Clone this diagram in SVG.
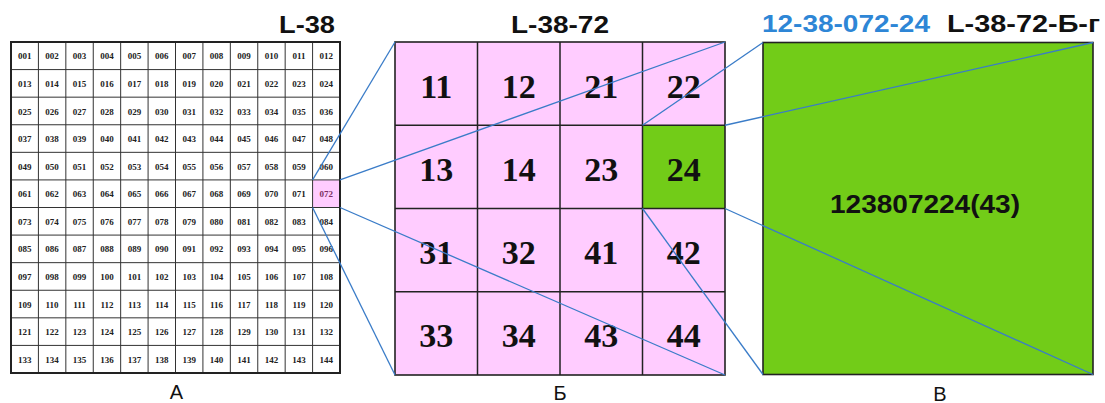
<svg xmlns="http://www.w3.org/2000/svg" width="1105" height="403" viewBox="0 0 1105 403">
<style>
.bg{fill:#ffffff}
.gl{stroke:#333;stroke-width:1;fill:none}
.gb{stroke:#222;stroke-width:2;fill:none}
.sm{font-family:"Liberation Serif","Times New Roman",serif;font-weight:bold;font-size:9px;fill:#222;text-anchor:middle}
.big{font-family:"Liberation Serif","Times New Roman",serif;font-weight:bold;font-size:34px;fill:#111;text-anchor:middle}
.ttl{font-family:"Liberation Sans",Arial,sans-serif;font-weight:bold;font-size:23px;fill:#111}
.lbl{font-family:"Liberation Sans",Arial,sans-serif;font-size:20px;fill:#111;text-anchor:middle}
.pink{fill:#ffccff}
.green{fill:#72cc18}
.con{stroke:#3a7cc8;stroke-width:1.3;fill:none}
</style>
<rect class="bg" x="0" y="0" width="1105" height="403"/>

<g id="sheet-L-38">
<rect class="pink" x="312.58" y="179.92" width="27.42" height="27.58"/>
<path class="gl" d="M38.42 42V373M65.83 42V373M93.25 42V373M120.67 42V373M148.08 42V373M175.5 42V373M202.92 42V373M230.33 42V373M257.75 42V373M285.17 42V373M312.58 42V373M11 69.58H340M11 97.17H340M11 124.75H340M11 152.33H340M11 179.92H340M11 207.5H340M11 235.08H340M11 262.67H340M11 290.25H340M11 317.83H340M11 345.42H340"/>
<rect class="gb" x="11" y="42" width="329" height="331"/>
<text class="ttl" x="279" y="33" textLength="56" lengthAdjust="spacingAndGlyphs">L-38</text>
<g class="sm">
<g transform="translate(0,59.3)"><text x="24.7">001</text><text x="52.1">002</text><text x="79.5">003</text><text x="107">004</text><text x="134.4">005</text><text x="161.8">006</text><text x="189.2">007</text><text x="216.6">008</text><text x="244">009</text><text x="271.5">010</text><text x="298.9">011</text><text x="326.3">012</text></g>
<g transform="translate(0,86.9)"><text x="24.7">013</text><text x="52.1">014</text><text x="79.5">015</text><text x="107">016</text><text x="134.4">017</text><text x="161.8">018</text><text x="189.2">019</text><text x="216.6">020</text><text x="244">021</text><text x="271.5">022</text><text x="298.9">023</text><text x="326.3">024</text></g>
<g transform="translate(0,114.5)"><text x="24.7">025</text><text x="52.1">026</text><text x="79.5">027</text><text x="107">028</text><text x="134.4">029</text><text x="161.8">030</text><text x="189.2">031</text><text x="216.6">032</text><text x="244">033</text><text x="271.5">034</text><text x="298.9">035</text><text x="326.3">036</text></g>
<g transform="translate(0,142.1)"><text x="24.7">037</text><text x="52.1">038</text><text x="79.5">039</text><text x="107">040</text><text x="134.4">041</text><text x="161.8">042</text><text x="189.2">043</text><text x="216.6">044</text><text x="244">045</text><text x="271.5">046</text><text x="298.9">047</text><text x="326.3">048</text></g>
<g transform="translate(0,169.6)"><text x="24.7">049</text><text x="52.1">050</text><text x="79.5">051</text><text x="107">052</text><text x="134.4">053</text><text x="161.8">054</text><text x="189.2">055</text><text x="216.6">056</text><text x="244">057</text><text x="271.5">058</text><text x="298.9">059</text><text x="326.3">060</text></g>
<g transform="translate(0,197.2)"><text x="24.7">061</text><text x="52.1">062</text><text x="79.5">063</text><text x="107">064</text><text x="134.4">065</text><text x="161.8">066</text><text x="189.2">067</text><text x="216.6">068</text><text x="244">069</text><text x="271.5">070</text><text x="298.9">071</text><text x="326.3" fill="#7a3060">072</text></g>
<g transform="translate(0,224.8)"><text x="24.7">073</text><text x="52.1">074</text><text x="79.5">075</text><text x="107">076</text><text x="134.4">077</text><text x="161.8">078</text><text x="189.2">079</text><text x="216.6">080</text><text x="244">081</text><text x="271.5">082</text><text x="298.9">083</text><text x="326.3">084</text></g>
<g transform="translate(0,252.4)"><text x="24.7">085</text><text x="52.1">086</text><text x="79.5">087</text><text x="107">088</text><text x="134.4">089</text><text x="161.8">090</text><text x="189.2">091</text><text x="216.6">092</text><text x="244">093</text><text x="271.5">094</text><text x="298.9">095</text><text x="326.3">096</text></g>
<g transform="translate(0,280)"><text x="24.7">097</text><text x="52.1">098</text><text x="79.5">099</text><text x="107">100</text><text x="134.4">101</text><text x="161.8">102</text><text x="189.2">103</text><text x="216.6">104</text><text x="244">105</text><text x="271.5">106</text><text x="298.9">107</text><text x="326.3">108</text></g>
<g transform="translate(0,307.5)"><text x="24.7">109</text><text x="52.1">110</text><text x="79.5">111</text><text x="107">112</text><text x="134.4">113</text><text x="161.8">114</text><text x="189.2">115</text><text x="216.6">116</text><text x="244">117</text><text x="271.5">118</text><text x="298.9">119</text><text x="326.3">120</text></g>
<g transform="translate(0,335.1)"><text x="24.7">121</text><text x="52.1">122</text><text x="79.5">123</text><text x="107">124</text><text x="134.4">125</text><text x="161.8">126</text><text x="189.2">127</text><text x="216.6">128</text><text x="244">129</text><text x="271.5">130</text><text x="298.9">131</text><text x="326.3">132</text></g>
<g transform="translate(0,362.7)"><text x="24.7">133</text><text x="52.1">134</text><text x="79.5">135</text><text x="107">136</text><text x="134.4">137</text><text x="161.8">138</text><text x="189.2">139</text><text x="216.6">140</text><text x="244">141</text><text x="271.5">142</text><text x="298.9">143</text><text x="326.3">144</text></g>
</g>
<text class="lbl" x="176.5" y="399">А</text>
</g>

<g id="sheet-L-38-72">
<rect class="pink" x="395" y="42" width="330" height="333"/>
<rect class="green" x="642.5" y="125.25" width="82.5" height="83.25"/>
<path class="gl" style="stroke:#222;stroke-width:1.5" d="M477.5 42V375M560 42V375M642.5 42V375M395 125.25H725M395 208.5H725M395 291.75H725"/>
<rect class="gb" style="stroke-width:1.6" x="395" y="42" width="330" height="333"/>
<text class="ttl" x="511" y="33" textLength="98" lengthAdjust="spacingAndGlyphs">L-38-72</text>
<g class="big">
<text x="436.25" y="97.6">11</text><text x="518.75" y="97.6">12</text><text x="601.25" y="97.6">21</text><text x="683.75" y="97.6">22</text>
<text x="436.25" y="180.9">13</text><text x="518.75" y="180.9">14</text><text x="601.25" y="180.9">23</text><text x="683.75" y="180.9">24</text>
<text x="436.25" y="264.1">31</text><text x="518.75" y="264.1">32</text><text x="601.25" y="264.1">41</text><text x="683.75" y="264.1">42</text>
<text x="436.25" y="347.4">33</text><text x="518.75" y="347.4">34</text><text x="601.25" y="347.4">43</text><text x="683.75" y="347.4">44</text>
</g>
<text class="lbl" x="560" y="400">Б</text>
</g>

<g id="sheet-L-38-72-B-g">
<rect class="green" x="763" y="42.5" width="330" height="332" stroke="#222" stroke-width="1.6"/>
<text class="ttl" x="762" y="32" textLength="168" lengthAdjust="spacingAndGlyphs" style="fill:#2e86d6">12-38-072-24</text>
<text class="ttl" x="947" y="32" textLength="153" lengthAdjust="spacingAndGlyphs">L-38-72-Б-г</text>
<text class="ttl" x="830" y="213" textLength="190" lengthAdjust="spacingAndGlyphs" style="font-size:26px">123807224(43)</text>
<text class="lbl" x="940" y="401">В</text>
</g>

<g id="connectors" class="con">
<line x1="312.58" y1="179.92" x2="395" y2="42"/>
<line x1="340" y1="179.92" x2="725" y2="42"/>
<line x1="312.58" y1="207.5" x2="395" y2="375"/>
<line x1="340" y1="207.5" x2="725" y2="375"/>
<line x1="642.5" y1="125.25" x2="763" y2="42.5"/>
<line x1="725" y1="125.25" x2="1093" y2="42.5"/>
<line x1="642.5" y1="208.5" x2="763" y2="374.5"/>
<line x1="725" y1="208.5" x2="1093" y2="374.5"/>
</g>
</svg>
